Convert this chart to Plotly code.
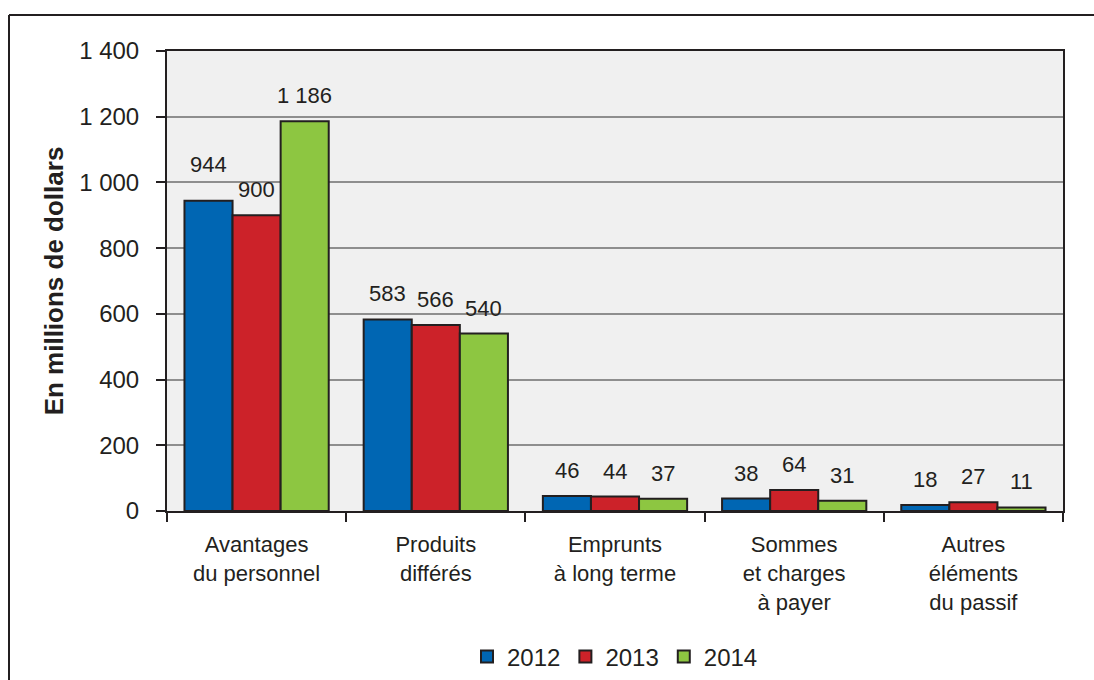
import plotly.graph_objects as go

categories = [
    "Avantages<br>du personnel",
    "Produits<br>différés",
    "Emprunts<br>à long terme",
    "Sommes<br>et charges<br>à payer",
    "Autres<br>éléments<br>du passif",
]
years = ["2012", "2013", "2014"]
values_2012 = [944, 583, 46, 38, 18]
values_2013 = [900, 566, 44, 64, 27]
values_2014 = [1186, 540, 37, 31, 11]
colors = ["#0066b3", "#cc2229", "#8dc641"]

ink = "#231f20"
sans = "Liberation Sans, Arial, sans-serif"

# plot area geometry (pixels) used to place the frame and labels
W, H = 1094, 680
L, R, T, B = 167, 31, 51, 169
plot_w = W - L - R
plot_h = H - T - B
bargap = 0.195
bar_px = plot_w / len(categories) * (1 - bargap) / len(years)


def fmt(v):
    return f"{v:,}".replace(",", " ")


fig = go.Figure()
series = [values_2012, values_2013, values_2014]
for year, vals, col in zip(years, series, colors):
    fig.add_trace(go.Bar(
        name=year,
        x=categories,
        y=vals,
        marker=dict(color=col, line=dict(color=ink, width=2)),
        hoverinfo="x+y",
    ))

# value labels above each bar
annotations = []
for i, vals in enumerate(series):
    for cat, v in zip(categories, vals):
        lift = 22 if (i == 0 and v == 944) else 11
        annotations.append(dict(
            x=cat, y=v, xref="x", yref="y",
            text=fmt(v), showarrow=False,
            xanchor="center", yanchor="bottom",
            xshift=(i - 1) * bar_px, yshift=lift,
            font=dict(family=sans, size=22, color=ink),
        ))

fx = lambda px: (px - L) / plot_w
fy = lambda py: (H - B - py) / plot_h

fig.update_layout(
    width=W,
    height=H,
    barmode="group",
    bargap=bargap,
    bargroupgap=0,
    separators=", ",
    paper_bgcolor="white",
    plot_bgcolor="#f0f0f0",
    margin=dict(l=L, r=R, t=T, b=B, autoexpand=False),
    font=dict(family=sans, color=ink),
    showlegend=True,
    legend=dict(
        orientation="h",
        x=0.5, xanchor="center",
        y=fy(657), yanchor="middle",
        font=dict(family=sans, size=24, color=ink),
        itemwidth=30,
        traceorder="normal",
    ),
    xaxis=dict(
        automargin=False,
        showline=True, linecolor=ink, linewidth=2, mirror=True,
        ticks="outside", tickson="boundaries", ticklen=9, tickwidth=2, tickcolor=ink,
        ticklabelstandoff=13,
        tickfont=dict(family=sans, size=22, color=ink),
        showgrid=False,
    ),
    yaxis=dict(
        automargin=False,
        range=[0, 1400],
        dtick=200,
        tickformat=",d",
        showline=True, linecolor=ink, linewidth=2, mirror=True,
        ticks="outside", ticklen=9, tickwidth=2, tickcolor=ink,
        ticklabelstandoff=12,
        tickfont=dict(family=sans, size=24, color=ink),
        showgrid=True, gridcolor="#8e8e8e", gridwidth=1.5,
        zeroline=False,
        title=dict(text="<b>En millions de dollars</b>",
                   font=dict(family=sans, size=26, color=ink),
                   standoff=8),
    ),
    annotations=annotations,
    shapes=[
        dict(type="line", xref="paper", yref="paper",
             x0=fx(9), x1=fx(W + 10), y0=fy(15), y1=fy(15),
             line=dict(color=ink, width=2)),
        dict(type="line", xref="paper", yref="paper",
             x0=fx(9), x1=fx(9), y0=fy(15), y1=fy(H + 10),
             line=dict(color=ink, width=2)),
    ],
)

fig.write_html("out.html")
